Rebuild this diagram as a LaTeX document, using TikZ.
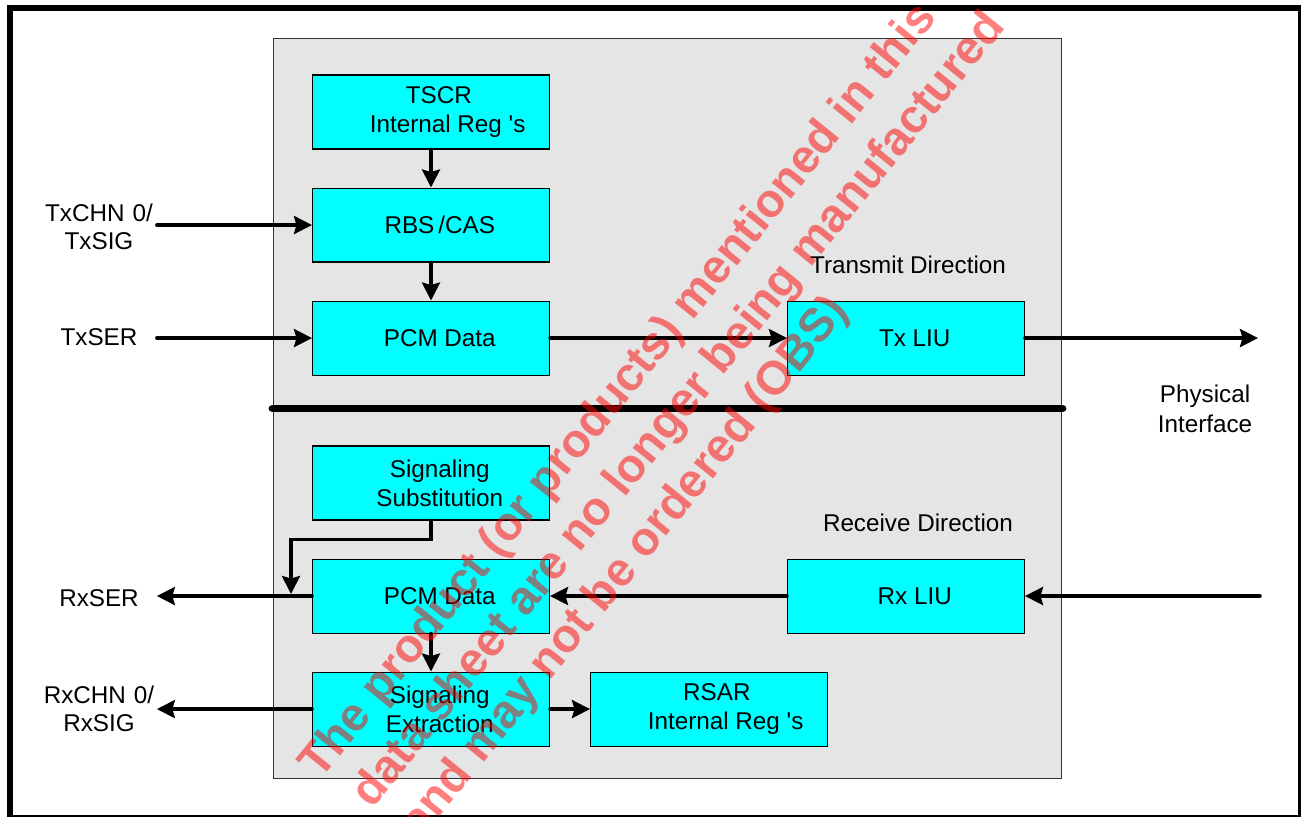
\documentclass[tikz,border=0pt]{standalone}
\usepackage{fontspec}
\setmainfont{Liberation Sans}[Ligatures=TeXOff]
\usepackage{tikz}
\usetikzlibrary{positioning}
\usetikzlibrary{calc}
\usetikzlibrary{arrows.meta}
\definecolor{panelgray}{RGB}{229,229,229}
\definecolor{boxcyan}{RGB}{0,255,255}
\newcommand{\txtsh}{\hspace*{10pt}}
\tikzset{every picture/.style={x=0.02cm,y=-0.02cm},
  block/.style={draw=black,line width=0.6pt,fill=boxcyan,minimum width=4.74cm,minimum height=1.48cm,inner sep=0pt,align=center,font=\fontsize{13.8}{16.4}\selectfont},
  port/.style={text width=2.3cm,align=center,inner sep=0pt,font=\fontsize{13.8}{16.2}\selectfont},
  note/.style={inner sep=0pt,align=center,font=\fontsize{13.8}{17}\selectfont},
  sig/.style={line width=2pt,line cap=round,-{Stealth[length=0.36cm,width=0.36cm,inset=0.05cm]}},
  wm/.style={rotate=51,anchor=base west,inner sep=0pt,text=red,text opacity=0.5,font=\fontsize{26.8}{32}\selectfont\bfseries}}

\begin{document}
\begin{tikzpicture}
\useasboundingbox (0,0) rectangle (1301,817);
\clip (0,0) rectangle (1301,817);

\node (chip) at (667.5,408.5) [draw=black!80,line width=0.6pt,fill=panelgray,minimum width=15.78cm,minimum height=14.82cm] {};
\draw[line width=0.16cm,line cap=round] (chip.west) -- (chip.east);

% transmit side
\node (tscr) at (431,112) [block] {\hspace*{9pt}TSCR\\\hspace*{19pt}Internal Reg 's};
\node (rbs) [block, below=0.76cm of tscr] {\txtsh RBS\,/CAS};
\node (pcmtx) [block, below=0.76cm of rbs] {\txtsh PCM Data};
\node (txliu) [block, right=4.74cm of pcmtx] {\txtsh Tx LIU};

% receive side
\node (sigsub) at (431,483) [block] {\txtsh Signaling\\\txtsh Substitution};
\node (pcmrx) [block, below=0.76cm of sigsub] {\txtsh PCM Data};
\node (sigext) [block, below=0.76cm of pcmrx] {\txtsh Signaling\\\txtsh Extraction};
\node (rsar) [block, right=0.8cm of sigext] {\hspace*{9pt}RSAR\\\hspace*{19pt}Internal Reg 's};
\node (rxliu) [block, right=4.74cm of pcmrx] {\txtsh Rx LIU};

\node (txsig) at (99,227) [port] {TxCHN 0/\\TxSIG};
\node (txser) at (99,337) [port] {TxSER};
\node (rxser) at (99,598) [port] {RxSER};
\node (rxsig) at (99,709) [port] {RxCHN 0/\\RxSIG};
\node (phys) at (1205,409) [note] {Physical\\Interface};
\node (txdir) at (908,265) [note] {Transmit Direction};
\node (rxdir) at (918,523) [note] {Receive Direction};

\coordinate (txout) at (1258,335);
\coordinate (rxin) at (1260,595);
\coordinate (subin) at ($(pcmrx.west)+(-21,-2)$);

\draw[sig] (tscr) -- (rbs);
\draw[sig] (rbs) -- (pcmtx);
\draw[sig] (txsig.east |- rbs.west) -- (rbs.west);
\draw[sig] (txser.east |- pcmtx.west) -- (pcmtx.west);
\draw[sig] (pcmtx) -- (txliu);
\draw[sig] (txliu.east) -- (txliu.east -| txout);
\draw[sig] (rxin |- rxliu.east) -- (rxliu.east);
\draw[sig] (rxliu) -- (pcmrx);
\draw[sig] (pcmrx.west) -- (rxser.east |- pcmrx.west);
\draw[sig] (sigsub.south) -- ++(0,19) -| (subin);
\draw[sig] (pcmrx) -- (sigext);
\draw[sig] (sigext.west) -- (rxsig.east |- sigext.west);
\draw[sig] (sigext) -- (rsar);

% outer frame
\draw[line width=0.12cm] (9.7,8) rectangle (1300.5,818);

% obsolete stamp
\node (obs1) at (320,781) [wm] {The product (or products) mentioned in this};
\node (obs2) at (372,810) [wm] {data sheet are no longer being manufactured};
\node (obs3) at (421,840) [wm] {and may not be ordered (OBS)};
\end{tikzpicture}
\end{document}
